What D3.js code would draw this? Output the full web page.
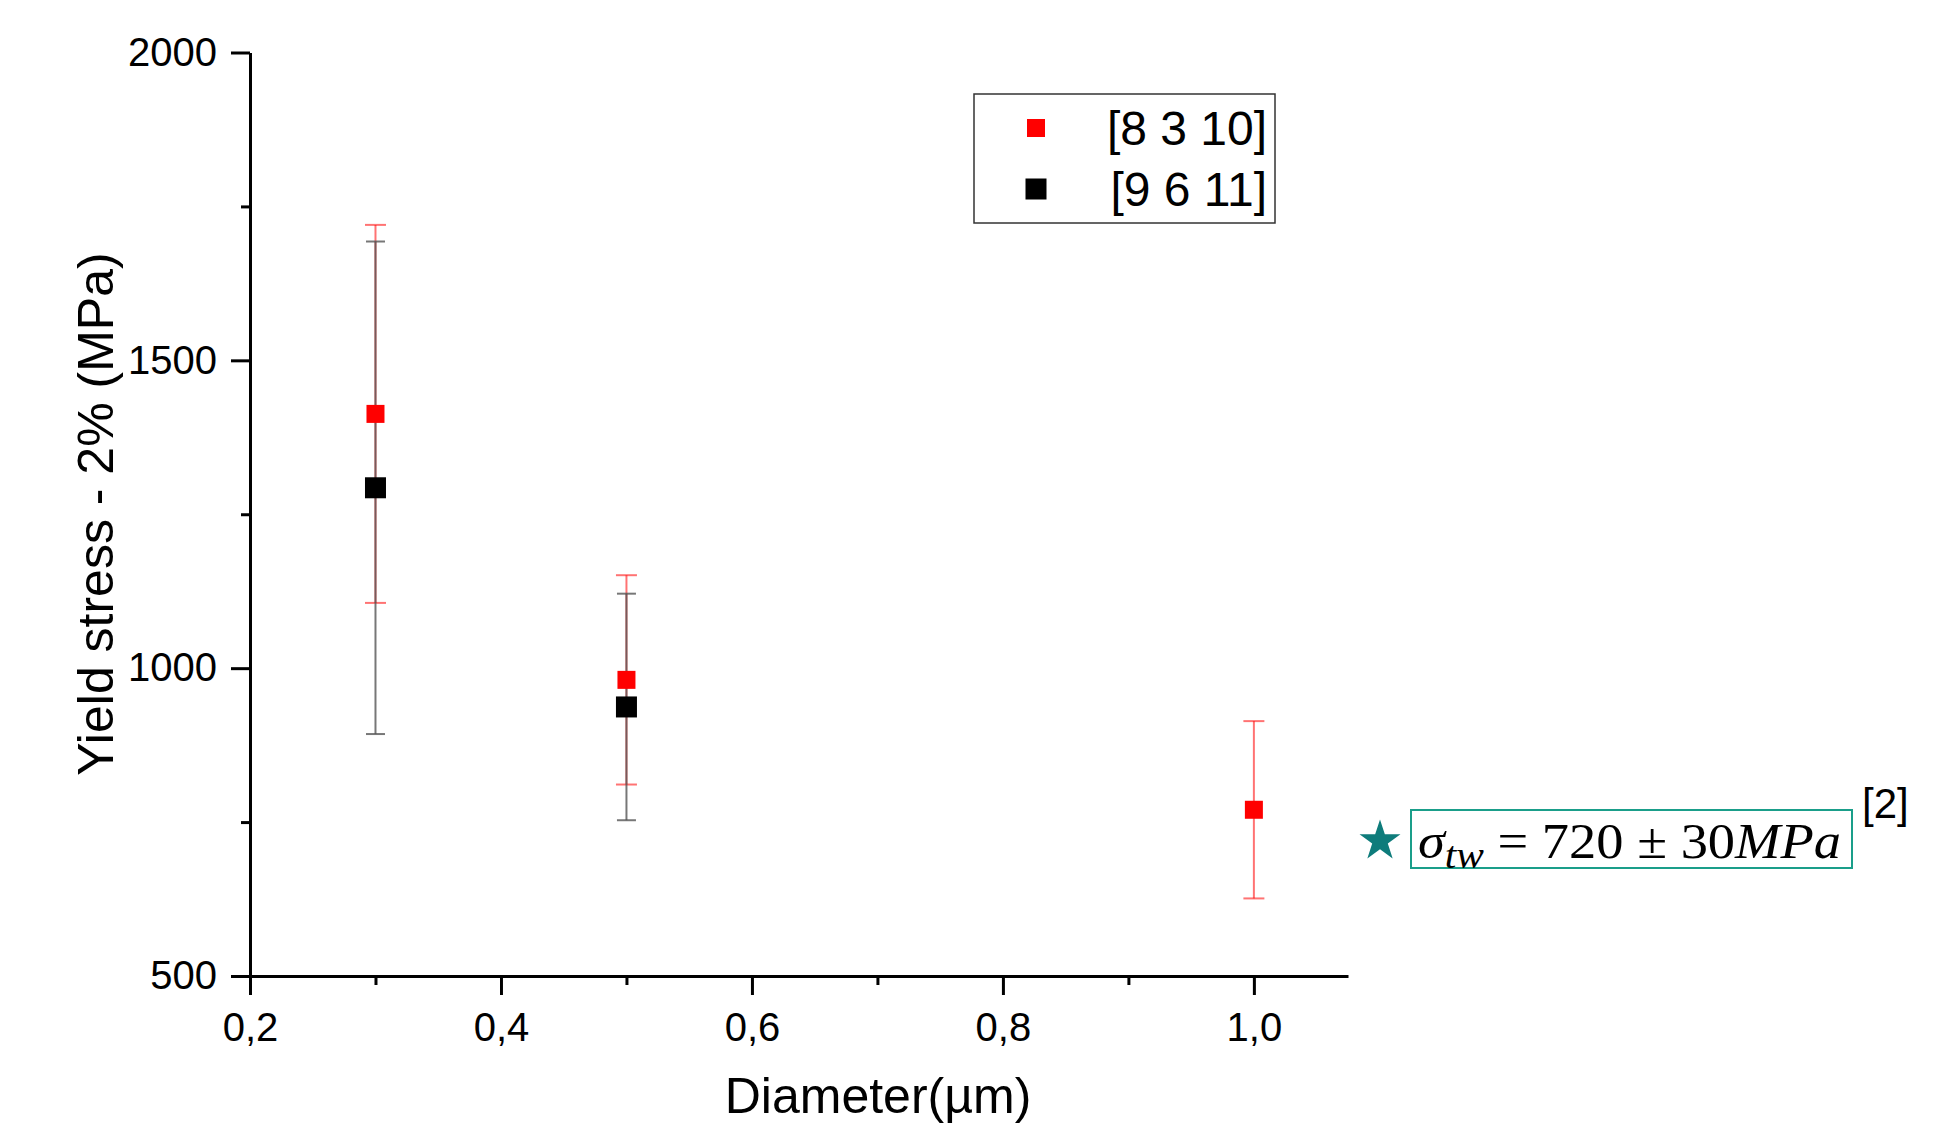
<!DOCTYPE html>
<html>
<head>
<meta charset="utf-8">
<script src="https://cdn.jsdelivr.net/npm/d3@7"></script>
<style>
  html, body { margin: 0; padding: 0; background: #fff; }
  svg { display: block; }
</style>
</head>
<body>
<script>
// ---- data ----
const seriesNames = ["[8 3 10]", "[9 6 11]"];
const redDiameter = [0.3, 0.5, 1.0];
const redStress = [1413, 981, 770];
const redError = [307, 170, 144];
const blackDiameter = [0.3, 0.5];
const blackStress = [1293, 937];
const blackError = [400, 184];
const xMajorTicks = [0.2, 0.4, 0.6, 0.8, 1.0];
const xMinorTicks = [0.3, 0.5, 0.7, 0.9];
const yMajorTicks = [500, 1000, 1500, 2000];
const yMinorTicks = [750, 1250, 1750];
const xTitle = "Diameter(µm)";
const yTitle = "Yield stress - 2% (MPa)";
const refLabel = "[2]";

const W = 1960, H = 1125;
const svg = d3.select("body").append("svg").attr("width", W).attr("height", H);
svg.append("rect").attr("width", W).attr("height", H).attr("fill", "#fff");

const x = d3.scaleLinear().domain([0.2, 1.075]).range([250, 1348]);
const y = d3.scaleLinear().domain([500, 2000]).range([976, 52.5]);

const sansFont = "'Liberation Sans', Arial, sans-serif";
const fmtX = d => d3.format(".1f")(d).replace(".", ",");

// minor ticks
svg.append("g").attr("transform", `translate(0,${y(500)})`)
  .call(d3.axisBottom(x).tickValues(xMinorTicks).tickSize(9).tickFormat(""))
  .call(g => g.select(".domain").remove())
  .call(g => g.selectAll("line").attr("stroke", "#000").attr("stroke-width", 3));
svg.append("g").attr("transform", `translate(${x(0.2)},0)`)
  .call(d3.axisLeft(y).tickValues(yMinorTicks).tickSize(9).tickFormat(""))
  .call(g => g.select(".domain").remove())
  .call(g => g.selectAll("line").attr("stroke", "#000").attr("stroke-width", 3));

// major axes
const xAxis = svg.append("g").attr("transform", `translate(0,${y(500)})`)
  .call(d3.axisBottom(x).tickValues(xMajorTicks).tickSize(19).tickSizeOuter(0).tickPadding(17.6).tickFormat(fmtX));
xAxis.select(".domain").attr("stroke", "#000").attr("stroke-width", 3);
xAxis.selectAll("line").attr("stroke", "#000").attr("stroke-width", 3);
xAxis.selectAll("text").attr("font-family", sansFont).attr("font-size", 40).attr("fill", "#000");

const yAxis = svg.append("g").attr("transform", `translate(${x(0.2)},0)`)
  .call(d3.axisLeft(y).tickValues(yMajorTicks).tickSize(19).tickSizeOuter(0).tickPadding(14).tickFormat(d3.format("d")));
yAxis.select(".domain").attr("stroke", "#000").attr("stroke-width", 3);
yAxis.selectAll("line").attr("stroke", "#000").attr("stroke-width", 3);
yAxis.selectAll("text").attr("font-family", sansFont).attr("font-size", 40).attr("fill", "#000");

// axis titles
svg.append("text").attr("x", 878).attr("y", 1113).attr("text-anchor", "middle")
  .attr("font-family", sansFont).attr("font-size", 50).attr("fill", "#000").text(xTitle);
svg.append("text").attr("transform", "translate(113,514) rotate(-90)").attr("text-anchor", "middle")
  .attr("font-family", sansFont).attr("font-size", 50).attr("fill", "#000").text(yTitle);

// series
const redData = redDiameter.map((d, i) => ({ x: d, v: redStress[i], e: redError[i] }));
const blackData = blackDiameter.map((d, i) => ({ x: d, v: blackStress[i], e: blackError[i] }));

function errorBars(data, color, capW, op) {
  const g = svg.append("g").attr("stroke", color).attr("stroke-width", 2).attr("stroke-opacity", op);
  data.forEach(d => {
    g.append("line").attr("x1", x(d.x)).attr("x2", x(d.x)).attr("y1", y(d.v + d.e)).attr("y2", y(d.v - d.e));
    g.append("line").attr("x1", x(d.x) - capW / 2).attr("x2", x(d.x) + capW / 2).attr("y1", y(d.v + d.e)).attr("y2", y(d.v + d.e));
    g.append("line").attr("x1", x(d.x) - capW / 2).attr("x2", x(d.x) + capW / 2).attr("y1", y(d.v - d.e)).attr("y2", y(d.v - d.e));
  });
}
errorBars(redData, "#ff0000", 21, 0.55);
errorBars(blackData, "#555555", 19, 0.8);

function squares(data, color, s) {
  svg.append("g").selectAll("rect").data(data).join("rect")
    .attr("x", d => x(d.x) - s / 2).attr("y", d => y(d.v) - s / 2)
    .attr("width", s).attr("height", s).attr("fill", color);
}
squares(redData, "#ff0000", 18);
squares(blackData, "#000000", 21);

// legend
const lg = svg.append("g");
lg.append("rect").attr("x", 974).attr("y", 94).attr("width", 301).attr("height", 129)
  .attr("fill", "#fff").attr("stroke", "#333").attr("stroke-width", 1.5);
const legendItems = [
  { name: seriesNames[0], color: "#ff0000", s: 18, cy: 128, base: 145 },
  { name: seriesNames[1], color: "#000000", s: 21, cy: 189, base: 206 }
];
legendItems.forEach(it => {
  lg.append("rect").attr("x", 1036 - it.s / 2).attr("y", it.cy - it.s / 2)
    .attr("width", it.s).attr("height", it.s).attr("fill", it.color);
  lg.append("text").attr("x", 1267).attr("y", it.base).attr("text-anchor", "end")
    .attr("font-family", sansFont).attr("font-size", 48).attr("fill", "#000").text(it.name);
});

// annotation
const star = d3.symbol().type(d3.symbolStar).size(520);
svg.append("path").attr("d", star()).attr("transform", "translate(1380,841)").attr("fill", "#0e7c7b");
svg.append("rect").attr("x", 1411).attr("y", 810).attr("width", 441).attr("height", 58)
  .attr("fill", "none").attr("stroke", "#1a9e8a").attr("stroke-width", 2);
const serif = "'Liberation Serif', 'DejaVu Serif', serif";
const t = svg.append("text").attr("x", 1418).attr("y", 858)
  .attr("font-family", serif).attr("font-size", 50).attr("fill", "#000");
t.append("tspan").attr("font-style", "italic").text("σ");
t.append("tspan").attr("font-style", "italic").attr("font-size", 38).attr("dy", 10).text("tw");
t.append("tspan").attr("dy", -10).text("\u00A0=\u00A0720\u00A0±\u00A030");
t.append("tspan").attr("font-style", "italic").text("MPa");
const bb = t.node().getBBox();
if (bb.width > 0) {
  t.attr("transform", `translate(1418,0) scale(${423 / bb.width},1) translate(-1418,0)`);
}
svg.append("text").attr("x", 1862).attr("y", 818).attr("font-family", sansFont)
  .attr("font-size", 42).attr("fill", "#000").text(refLabel);
</script>
</body>
</html>
